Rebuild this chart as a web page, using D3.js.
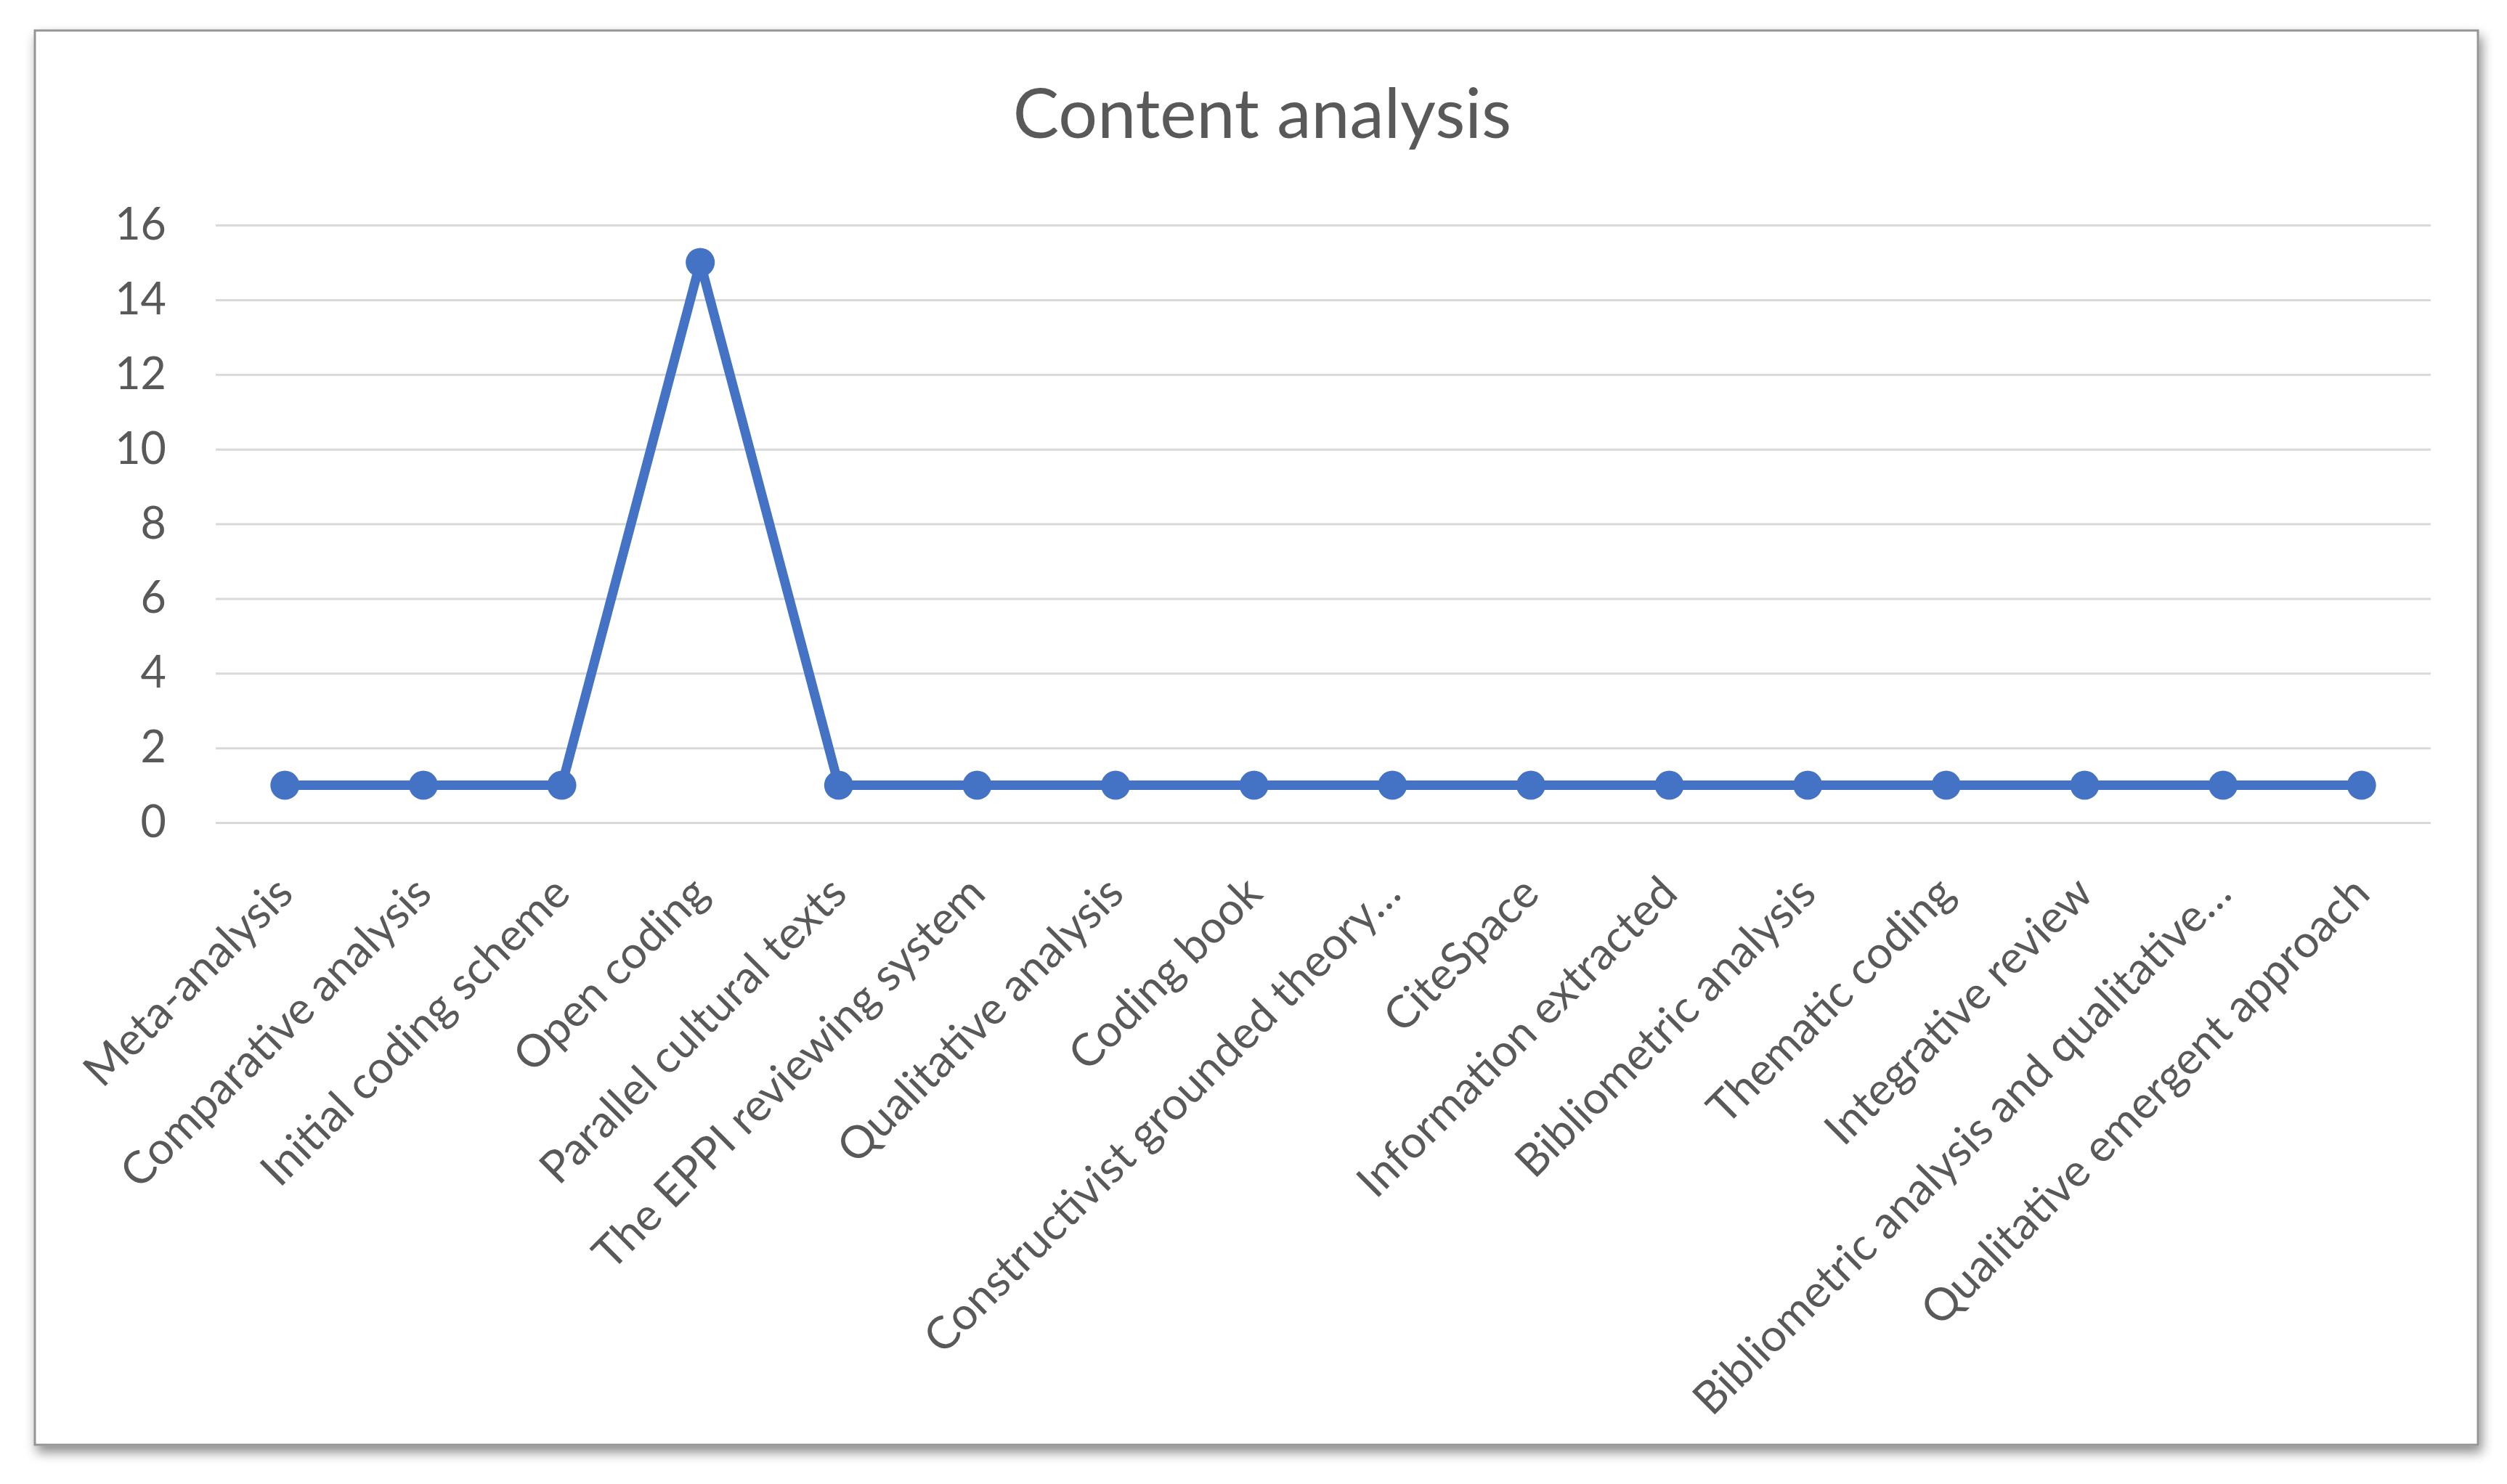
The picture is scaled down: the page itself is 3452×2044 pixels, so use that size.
<!DOCTYPE html>
<html>
<head>
<meta charset="utf-8">
<script src="https://cdn.jsdelivr.net/npm/d3@7"></script>
<style>
  body { margin: 0; background: #fff; }
  svg { display: block; font-family: Lato, "Open Sans", sans-serif; }
</style>
</head>
<body>
<svg id="chart"></svg>
<script>
let width = 3452, height = 2044;

// data
let categories = ["Meta-analysis", "Comparative analysis", "Initial coding scheme", "Open coding",
  "Parallel cultural texts", "The EPPI reviewing system", "Qualitative analysis", "Coding book",
  "Constructivist grounded theory\u2026", "CiteSpace", "Information extracted", "Bibliometric analysis",
  "Thematic coding", "Integrative review", "Bibliometric analysis and qualitative\u2026",
  "Qualitative emergent approach"];
let values = [1, 1, 1, 15, 1, 1, 1, 1, 1, 1, 1, 1, 1, 1, 1, 1];
let yTicks = [0, 2, 4, 6, 8, 10, 12, 14, 16];
let title = "Content analysis";

let plot = { left: 297, right: 3347, top: 310, bottom: 1133 };
let textCol = "#595959", lineCol = "#4472C4";

let svg = d3.select("#chart").attr("width", width).attr("height", height);

// frame with shadow
let defs = svg.append("defs");
let f = defs.append("filter").attr("id", "shadow")
  .attr("x", "-5%").attr("y", "-5%").attr("width", "110%").attr("height", "112%");
f.append("feDropShadow").attr("dx", 4).attr("dy", 9).attr("stdDeviation", 8)
  .attr("flood-color", "#000").attr("flood-opacity", 0.45);

svg.append("rect")
  .attr("x", 48).attr("y", 42).attr("width", 3364).attr("height", 1948)
  .attr("fill", "#fff").attr("stroke", "#959595").attr("stroke-width", 3)
  .attr("filter", "url(#shadow)");

// title
svg.append("text")
  .attr("x", 1738).attr("y", 190)
  .attr("text-anchor", "middle")
  .style("font-size", "95px")
  .style("fill", textCol)
  .text(title);

// scales
let x = d3.scalePoint()
  .domain(categories)
  .range([plot.left, plot.right])
  .padding(0.5);

let y = d3.scaleLinear()
  .domain([0, 16])
  .range([plot.bottom, plot.top]);

// y axis + gridlines
let yAxis = svg.append("g")
  .attr("transform", "translate(" + plot.left + ",0)")
  .call(d3.axisLeft(y).tickValues(yTicks).tickSize(-(plot.right - plot.left)).tickPadding(68));
yAxis.select(".domain").remove();
yAxis.selectAll("line").attr("stroke", "#d9d9d9").attr("stroke-width", 3);
yAxis.selectAll("text")
  .style("font-size", "61px")
  .style("font-family", "Lato, 'Open Sans', sans-serif")
  .style("fill", textCol);

// x axis labels, rotated
let xAxis = svg.append("g")
  .attr("transform", "translate(0," + plot.bottom + ")")
  .call(d3.axisBottom(x).tickSize(0));
xAxis.select(".domain").remove();
xAxis.selectAll("text")
  .attr("x", 0).attr("y", 0).attr("dy", 0)
  .attr("transform", "translate(14,101) rotate(-45)")
  .style("text-anchor", "end")
  .style("font-size", "62px")
  .style("font-family", "Lato, 'Open Sans', sans-serif")
  .style("fill", textCol);

// line + markers
let pts = categories.map((c, i) => ({ cat: c, val: values[i] }));

svg.append("path")
  .datum(pts)
  .attr("fill", "none")
  .attr("stroke", lineCol)
  .attr("stroke-width", 13)
  .attr("stroke-linejoin", "round")
  .attr("d", d3.line().x(d => x(d.cat)).y(d => y(d.val)));

svg.selectAll("circle.pt")
  .data(pts)
  .enter().append("circle")
  .attr("class", "pt")
  .attr("cx", d => x(d.cat))
  .attr("cy", d => y(d.val))
  .attr("r", 20)
  .attr("fill", lineCol);
</script>
</body>
</html>
